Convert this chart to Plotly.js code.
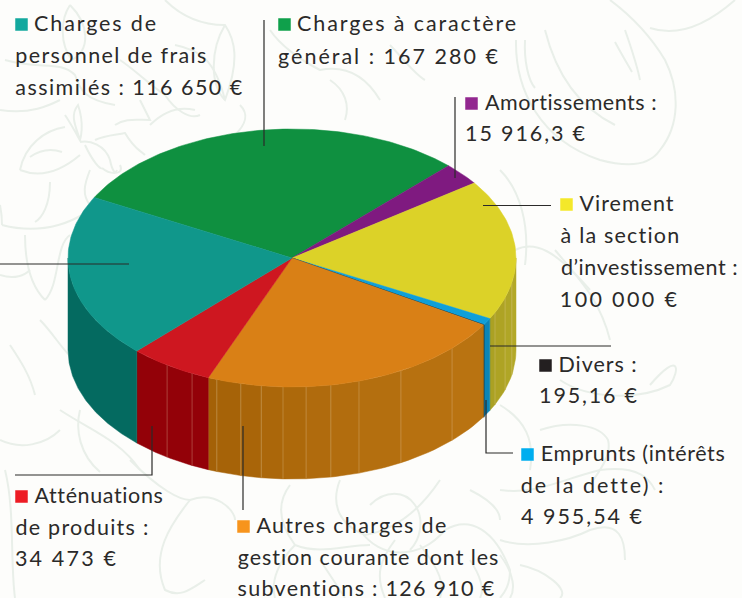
<!DOCTYPE html>
<html><head><meta charset="utf-8">
<script src="https://cdn.plot.ly/plotly-3.0.1.min.js"></script>
<style>html,body{margin:0;padding:0;background:#fdfdfb}#c{width:742px;height:598px}</style></head>
<body><div id="c"></div>
<script>
// Data, in drawing order (clockwise, starting at the green slice)
const categories = ["Charges à caractère général","Amortissements","Virement à la section d'investissement","Emprunts (intérêts de la dette)","Divers","Autres charges de gestion courante dont les subventions","Atténuations de produits","Charges de personnel de frais assimilés"];
const values = [167280,15916.3,100000,4955.54,195.16,126910,34473,116650];
const topColors = ["#0f9040","#7f1a80","#dcd228","#0f9fd8","#222222","#d98016","#ce1720","#10978b"];
const wallColorsA = ["#0f9040","#7f1a80","#aaa022","#0b85b8","#1d3f4d","#a36006","#930108","#046a60"];
const wallColorsB = ["#0f9040","#7f1a80","#b4a928","#0b85b8","#1d3f4d","#ba7412","#930108","#046a60"];
const legendColors = ["#0fa04b","#92278f","#f4e82a","#00aeef","#231f20","#f7941d","#ed1c24","#13a89e"];
const labelLines = [
 ["Charges à caractère","général : 167 280 €"],
 ["Amortissements :","15 916,3 €"],
 ["Virement","à la section","d’investissement :","100 000 €"],
 ["Emprunts (intérêts","de la dette) :","4 955,54 €"],
 ["Divers :","195,16 €"],
 ["Autres charges de","gestion courante dont les","subventions : 126 910 €"],
 ["Atténuations","de produits :","34 473 €"],
 ["Charges de","personnel de frais","assimilés : 116 650 €"]];
// rendered width of each label line
const labelWidths = [[219,220],[172,120],[94,119,177,117],[184,142,121],[78,98],[190,261,257],[128,133,101],[122,191,227]];

// Layout of the drawing
const cx=292, cy=258, rx=224, ry=129, depth=92, startDeg=152;
const labelX=[278,465,560,521,539,237,15,15], labelY=[24,103,204,454,365,526,496,24];
const lineStep=[32.5,31,32,31.5,31,31.5,31.5,32];
const ink="#2b2a29";
const leaderX=[[264,264],[455,455],[483,551],[486,486,513],[490,611],[243,243],[152,152,15],[129,0]];
const leaderY=[[20,146],[97,178],[205.5,205.5],[400,453,453],[346,346],[426,510],[426,475,475],[264,264]];
const facetAngles=[-11,-18,-25,-44.4,-60.9,-72.6,-80,-86.4,-92.3,-97.9,-103.2,-109.6,-116.5,-123.9];

// Faint floral backdrop
const backgroundPaths=[
 "M516,40 C515,90 540,140 600,160 C630,168 650,165 660,150 C680,125 680,90 665,60 C650,35 630,15 610,0",
 "M650,28 C680,38 710,22 735,0","M625,30 C632,50 638,70 640,80","M615,42 C622,55 628,65 632,72",
 "M545,30 C555,70 575,105 615,125","M525,40 C524,60 528,80 535,88",
 "M500,170 C520,190 530,225 525,265","M515,250 C535,240 555,250 590,290","M555,250 C580,280 600,300 610,340",
 "M560,380 C590,400 640,400 670,385 C680,370 680,350 650,385",
 "M500,405 C525,420 535,440 530,470 M540,430 C570,420 600,425 608,440 C612,455 600,470 590,485",
 "M500,490 C535,495 560,480 600,470 C640,465 650,480 655,490","M500,540 C530,550 570,540 590,530 C620,520 625,540 625,560",
 "M520,565 C545,570 570,590 560,598","M500,555 C515,575 515,590 510,598",
 "M20,170 C25,145 45,130 65,127 M20,170 C40,178 60,172 80,155","M30,157 C40,150 50,148 62,152",
 "M2,225 C40,235 80,225 105,195","M50,182 C50,205 42,218 35,222","M0,205 C2,215 2,222 2,225",
 "M65,115 C75,130 82,145 80,140 C75,125 70,115 78,105 C85,125 80,140 80,140","M80,142 C90,140 105,145 110,160 C112,170 115,175 117,170",
 "M85,145 C92,160 100,170 102,168 M102,168 C110,175 125,175 120,165","M95,140 C105,135 115,135 125,133 C135,150 140,150 145,155",
 "M90,170 C84,185 82,195 90,205","M115,125 C125,118 135,120 150,120 L140,100","M150,125 C160,115 175,105 195,110",
 "M25,235 C25,260 30,285 45,300","M70,235 C55,245 60,285 45,300","M0,275 C15,280 25,275 30,270",
 "M70,5 C90,25 90,50 72,60 C60,45 60,20 70,5","M0,110 C30,115 50,105 60,100","M5,60 C40,70 60,60 75,75 C80,90 85,100 115,105",
 "M165,0 C180,15 200,25 225,25 C235,40 240,60 225,100 C210,85 210,50 225,25","M175,45 C200,50 215,60 225,100",
 "M270,30 C280,45 300,60 320,70 C345,65 365,75 380,100","M330,80 C345,90 350,105 345,120","M390,45 C400,55 415,75 425,80",
 "M120,60 C135,70 150,85 165,95 C175,110 190,120 200,115","M240,105 C250,115 245,125 235,135",
 "M40,320 C55,335 65,355 80,365 C100,375 115,372 125,375","M10,345 C20,360 30,375 35,395","M60,410 C90,430 120,440 140,470",
 "M0,440 C20,450 45,445 60,430","M80,410 C75,430 80,455 100,472",
 "M5,470 C15,510 10,560 15,598","M190,500 C170,525 150,555 165,590 C180,598 190,590 205,580","M130,460 C160,490 180,500 190,500 C215,490 235,510 235,520",
 "M290,485 C275,505 280,525 295,545 C320,555 345,545 370,545","M340,480 C330,505 340,525 365,535 C395,530 420,510 440,480",
 "M360,530 C380,560 420,560 445,530 C470,515 495,530 510,570 C510,585 505,592 500,598","M370,505 C385,490 405,490 415,505 C425,520 420,540 410,550",
 "M395,540 C380,560 375,575 385,598","M420,545 C440,570 445,585 440,598","M295,545 C280,560 270,580 275,598","M470,490 C490,500 500,510 500,520",
 "M320,560 C330,575 340,590 345,598","M470,560 C480,575 485,590 480,598"
];

const total=values.reduce((a,b)=>a+b,0);
const rad=d=>d*Math.PI/180;
const px=d=>cx+rx*Math.cos(rad(d));
const py=(d,z=0)=>cy-ry*Math.sin(rad(d))+z;
const hex=c=>[1,3,5].map(i=>parseInt(c.substr(i,2),16));
const mix=(a,b,t)=>{const A=hex(a),B=hex(b);return "rgb("+A.map((v,i)=>Math.round(v+(B[i]-v)*t)).join(",")+")";};

let bounds=[startDeg];
values.forEach(v=>bounds.push(bounds[bounds.length-1]-v/total*360));
const traces=[];
const hide={showlegend:false,hoverinfo:"skip"};

// side walls: front half only
for(let i=0;i<values.length;i++){
  let a0=Math.min(bounds[i],0), a1=Math.max(bounds[i+1],-180);
  if(i===7){a0=bounds[i]; a1=-180;}
  if(a0<=a1) continue;
  const cuts=[a0,...facetAngles.filter(f=>f<a0-0.05&&f>a1+0.05),a1];
  for(let k=0;k<cuts.length-1;k++){
    const xs=[],ys=[],N=8;
    for(let j=0;j<=N;j++){const d=cuts[k]+(cuts[k+1]-cuts[k])*j/N;xs.push(px(d));ys.push(py(d));}
    for(let j=N;j>=0;j--){const d=cuts[k]+(cuts[k+1]-cuts[k])*j/N;xs.push(px(d));ys.push(py(d,depth));}
    xs.push(xs[0]);ys.push(ys[0]);
    const t=1-(k+0.5)/(cuts.length-1);
    const col=mix(wallColorsA[i],wallColorsB[i],t);
    traces.push({type:"scatter",mode:"lines",x:xs,y:ys,fill:"toself",fillcolor:col,line:{color:col,width:i===4?1.6:0.5},...hide});
    if(k>0){const d=cuts[k];
      traces.push({type:"scatter",mode:"lines",x:[px(d),px(d)],y:[py(d),py(d,depth)],line:{color:"rgba(240,220,180,0.28)",width:1},...hide});}
  }
}
// top faces
values.forEach((v,i)=>{
  const xs=[cx],ys=[cy],span=bounds[i]-bounds[i+1],N=Math.max(2,Math.ceil(span));
  for(let j=0;j<=N;j++){const d=bounds[i]-span*j/N;xs.push(px(d));ys.push(py(d));}
  xs.push(cx);ys.push(cy);
  traces.push({type:"scatter",mode:"lines",name:categories[i],x:xs,y:ys,fill:"toself",fillcolor:topColors[i],
    line:{color:topColors[i],width:0.5},text:v+" €",hoverinfo:"name+text",showlegend:false});
});
// leader lines
leaderX.forEach((x,i)=>traces.push({type:"scatter",mode:"lines",x:x,y:leaderY[i],line:{color:ink,width:1.2},...hide}));
// legend squares
traces.push({type:"scatter",mode:"markers",x:labelX.map(x=>x+6.5),y:labelY.map(y=>y+0.5),
  marker:{symbol:"square",size:12.5,color:legendColors,line:{width:0}},...hide});

// labels
const annotations=[], widths=[];
labelLines.forEach((lines,i)=>lines.forEach((t,j)=>{
  const indent=labelX[i]+(j===0?20:0.5);
  widths.push(labelWidths[i][j]);
  annotations.push({x:indent,y:labelY[i]+j*lineStep[i]-1,xref:"x",yref:"y",text:t,showarrow:false,xanchor:"left",yanchor:"middle",
    font:{family:"Lato, sans-serif",size:21.5,color:ink},borderpad:0,borderwidth:0});
}));

Plotly.newPlot("c",traces,{
  width:742,height:598,margin:{l:0,r:0,t:0,b:0},paper_bgcolor:"#fdfdfb",plot_bgcolor:"rgba(0,0,0,0)",
  xaxis:{range:[0,742],visible:false,fixedrange:true},
  yaxis:{range:[598,0],visible:false,fixedrange:true},
  showlegend:false,annotations:annotations,
  shapes:backgroundPaths.map(p=>({type:"path",path:p,xref:"x",yref:"y",layer:"below",line:{color:"#e9efe9",width:2}}))
},{displayModeBar:false}).then(gd=>{
  // the reference face sets wider than Lato: track each line out to its measured width,
  // keeping its left edge where the annotation put it
  gd.querySelectorAll(".annotation-text").forEach((el,i)=>{
    const base=el.getComputedTextLength(), extra=widths[i]-base;
    el.style.letterSpacing=(extra/Math.max(1,el.textContent.length-1)).toFixed(2)+"px";
    el.setAttribute("x",(parseFloat(el.getAttribute("x")||0)+extra/2).toFixed(2));
  });
});
</script></body></html>
